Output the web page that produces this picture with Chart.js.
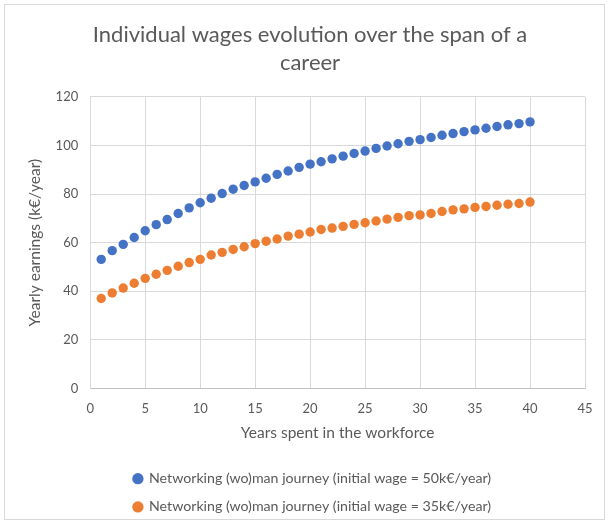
<!DOCTYPE html>
<html>
<head>
<meta charset="utf-8">
<script src="https://cdn.jsdelivr.net/npm/chart.js@4"></script>
<style>
html,body{margin:0;padding:0;background:#fff;}
#wrap{width:609px;height:524px;}
</style>
</head>
<body>
<div id="wrap"><canvas id="c" width="609" height="524"></canvas></div>
<script>
const years = Array.from({length: 40}, (_, i) => i + 1);
const wages50 = [53.1, 56.7, 59.3, 62.1, 64.9, 67.4, 69.5, 72.0, 74.3, 76.4,
                 78.3, 80.2, 82.0, 83.5, 85.0, 86.5, 88.1, 89.5, 91.0, 92.3,
                 93.3, 94.5, 95.6, 96.7, 97.7, 98.8, 99.8, 100.7, 101.7, 102.4,
                 103.3, 104.2, 104.9, 105.7, 106.4, 107.1, 107.8, 108.5, 109.0, 109.7];
const wages35 = [37.0, 39.3, 41.3, 43.3, 45.3, 47.0, 48.6, 50.3, 51.8, 53.1,
                 54.9, 56.0, 57.2, 58.3, 59.6, 60.6, 61.5, 62.7, 63.5, 64.4,
                 65.4, 66.0, 66.7, 67.5, 68.2, 68.9, 69.7, 70.4, 71.1, 71.4,
                 72.0, 72.8, 73.5, 73.9, 74.5, 74.9, 75.4, 75.8, 76.1, 76.7];
const seriesNames = ["Networking (wo)man journey (initial wage = 50k€/year)",
                     "Networking (wo)man journey (initial wage = 35k€/year)"];
const titleLines = ["Individual wages evolution over the span of a", "career"];
const xTitle = "Years spent in the workforce";
const yTitle = "Yearly earnings (k€/year)";

const FONT = "Lato, 'Open Sans', sans-serif";
const TXT = "#595959";

const bgPlugin = {
  id: 'bg',
  beforeDraw(chart) {
    const ctx = chart.ctx;
    ctx.save();
    ctx.fillStyle = '#fff';
    ctx.fillRect(0, 0, chart.width, chart.height);
    ctx.strokeStyle = '#d9d9d9';
    ctx.lineWidth = 1;
    ctx.strokeRect(4.5, 4.5, 600, 515);
    ctx.restore();
  }
};

// shift the title and legend boxes slightly right, as in the reference
const centerShift = {
  id: 'centerShift',
  afterLayout(chart) {
    const t = chart.titleBlock;
    if (t) { t.left += 4.5; t.right += 4.5; }
    const l = chart.legend;
    if (l) { l.left += 7; l.right += 7; }
  }
};

new Chart(document.getElementById('c'), {
  type: 'scatter',
  data: {
    datasets: [
      { label: seriesNames[0], data: years.map((x, i) => ({x, y: wages50[i]})),
        backgroundColor: '#4472C4', borderColor: '#4472C4', pointRadius: 4.7, pointHoverRadius: 4.7, borderWidth: 0 },
      { label: seriesNames[1], data: years.map((x, i) => ({x, y: wages35[i]})),
        backgroundColor: '#ED7D31', borderColor: '#ED7D31', pointRadius: 4.7, pointHoverRadius: 4.7, borderWidth: 0 }
    ]
  },
  options: {
    responsive: false,
    animation: false,
    layout: { padding: { left: 26, right: 24, top: 14, bottom: 0 } },
    plugins: {
      tooltip: { enabled: false },
      title: {
        display: true, text: titleLines, color: TXT,
        font: { family: FONT, size: 22, weight: 'normal', lineHeight: 1.27 },
        padding: { top: 7, bottom: 20 }
      },
      legend: {
        display: true, position: 'bottom',
        labels: { usePointStyle: true, pointStyle: 'circle', boxWidth: 8, boxHeight: 8,
                  color: TXT, padding: 14, font: { family: FONT, size: 14.2 } }
      }
    },
    scales: {
      x: {
        type: 'linear', min: 0, max: 45,
        ticks: { stepSize: 5, color: TXT, font: { family: FONT, size: 13 }, padding: 13 },
        grid: { color: '#d9d9d9', drawTicks: false },
        border: { color: '#bfbfbf' },
        title: { display: true, text: xTitle, color: TXT, font: { family: FONT, size: 15.5 }, padding: { top: -6, bottom: 15 } }
      },
      y: {
        type: 'linear', min: 0, max: 120,
        ticks: { stepSize: 20, color: TXT, font: { family: FONT, size: 13 }, padding: 12 },
        grid: { color: '#d9d9d9', drawTicks: false },
        border: { color: '#d9d9d9' },
        title: { display: true, text: yTitle, color: TXT, font: { family: FONT, size: 15.5 }, padding: { top: 0, bottom: -1 } }
      }
    }
  },
  plugins: [bgPlugin, centerShift]
});
</script>
</body>
</html>
